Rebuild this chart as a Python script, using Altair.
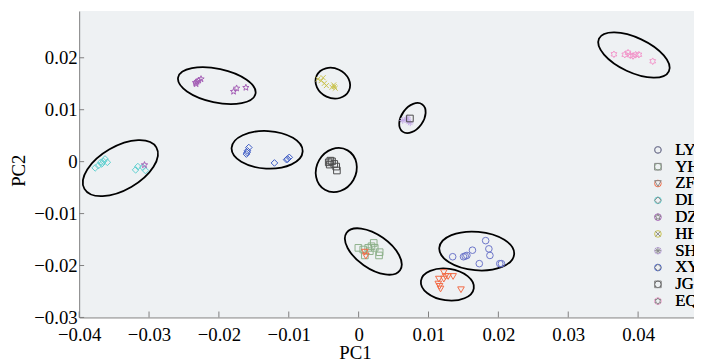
import altair as alt
import pandas as pd
import numpy as np

# ---------------- data ----------------
groups = ["LY", "YH", "ZF", "DL", "DZ", "HH", "SH", "XY", "JG", "EQ"]
colors = ["#6b74c8", "#8db08a", "#f26a45", "#5fcfcf", "#a45fb5",
          "#c9c24f", "#c6aee8", "#3f5cc4", "#4d4d4d", "#f295c9"]

LY_x = [0.01346, 0.01501, 0.01549, 0.01629, 0.01818, 0.01864, 0.01879, 0.01727, 0.02020, 0.02044, 0.01525]
LY_y = [-0.01831, -0.01831, -0.01806, -0.01705, -0.01521, -0.01679, -0.01806, -0.01964, -0.01964, -0.01964, -0.01819]

YH_x = [-0.00004, 0.00066, 0.00137, 0.00184, 0.00216, 0.00230, 0.00301, 0.00292, 0.00160, 0.00089]
YH_y = [-0.01660, -0.01692, -0.01660, -0.01629, -0.01565, -0.01660, -0.01743, -0.01806, -0.01724, -0.01806]

ZF_x = [0.00089, 0.00103, 0.01219, 0.01243, 0.01148, 0.01281, 0.01352, 0.01158, 0.01172, 0.01465, 0.01219, 0.01140]
ZF_y = [-0.01743, -0.01819, -0.02135, -0.02211, -0.02262, -0.02211, -0.02211, -0.02401, -0.02452, -0.02466, -0.02262, -0.02357]

DL_x = [-0.03771, -0.03725, -0.03677, -0.03654, -0.03630, -0.03597, -0.03192, -0.03160, -0.03051, -0.03089, -0.03691]
DL_y = [-0.00120, -0.00076, -0.00044, 0.00006, 0.00051, -0.00013, -0.00158, -0.00095, -0.00171, -0.00108, -0.00013]

DZ_x = [-0.02326, -0.02312, -0.02288, -0.02256, -0.02335, -0.01790, -0.01747, -0.01614, -0.03065]
DZ_y = [0.01496, 0.01540, 0.01565, 0.01591, 0.01521, 0.01350, 0.01413, 0.01426, -0.00063]

HH_x = [-0.00583, -0.00537, -0.00490, -0.00462, -0.00357, -0.00335, -0.00349, -0.00508, -0.00381]
HH_y = [0.01591, 0.01559, 0.01508, 0.01464, 0.01477, 0.01413, 0.01445, 0.01616, 0.01432]

SH_x = [0.00631, 0.00678, 0.00716, 0.00702, 0.00739]
SH_y = [0.00793, 0.00812, 0.00766, 0.00842, 0.00747]

XY_x = [-0.01606, -0.01592, -0.01572, -0.01596, -0.01205, -0.01031, -0.00993, -0.01017]
XY_y = [0.00146, 0.00209, 0.00272, 0.00177, -0.00025, 0.00038, 0.00082, 0.00051]

JG_x = [-0.00428, -0.00405, -0.00381, -0.00349, -0.00321, -0.00311, -0.00414, 0.00734]
JG_y = [-0.00013, 0.00019, 0.00006, -0.00044, -0.00095, -0.00171, -0.00057, 0.00831]

EQ_x = [0.03654, 0.03809, 0.03856, 0.03888, 0.03927, 0.03965, 0.04011, 0.04209]
EQ_y = [0.02067, 0.02059, 0.02097, 0.02048, 0.02034, 0.02059, 0.02059, 0.01933]

# confidence ellipses: centre (data units)
ell_cx = [-0.0203, -0.0037, 0.0077, -0.0131, -0.0032, -0.0341, 0.0394, 0.0021, 0.0169, 0.0127]
ell_cy = [0.01464, 0.01511, 0.00840, 0.00228, -0.00162, -0.00124, 0.02053, -0.01730, -0.01721, -0.02367]
# semi-axes (px) and rotation (deg)
ell_rx = [40, 18, 17, 36, 23, 42, 39, 33, 38, 27]
ell_ry = [17, 15, 11, 19, 20, 22, 17.5, 17, 19.5, 16]
ell_ang = [12, 25, -54, 3, -60, -30, 25, 35, 5, 8]

x_ticks = [-0.04, -0.03, -0.02, -0.01, 0, 0.01, 0.02, 0.03, 0.04]
y_ticks = [-0.03, -0.02, -0.01, 0, 0.01, 0.02]

# ---------------- marker shapes ----------------
def poly_path(radii, start_deg):
    n = len(radii)
    pts = []
    for i, r in enumerate(radii):
        a = np.deg2rad(start_deg + 360.0 * i / n)
        pts.append(f"{r*np.cos(a):.4f} {r*np.sin(a):.4f}")
    return "M " + " L ".join(pts) + " Z"

star5 = poly_path([1, 0.42] * 5, -90)
hexagram = poly_path([1, 0.58] * 6, -90)
xcross = "M -0.75 -0.75 L 0.75 0.75 M -0.75 0.75 L 0.75 -0.75"
aster = "M -1 0 L 1 0 M 0 -1 L 0 1 M -0.7 -0.7 L 0.7 0.7 M -0.7 0.7 L 0.7 -0.7"
shapes = ["circle", "square", "triangle-down", "diamond", star5,
          xcross, aster, "diamond", "square", hexagram]

def ellipse_path(k):
    c = 0.5523
    return (f"M 1 0 C 1 {c*k:.4f} {c:.4f} {k:.4f} 0 {k:.4f} "
            f"C {-c:.4f} {k:.4f} -1 {c*k:.4f} -1 0 "
            f"C -1 {-c*k:.4f} {-c:.4f} {-k:.4f} 0 {-k:.4f} "
            f"C {c:.4f} {-k:.4f} 1 {-c*k:.4f} 1 0 Z")

series = {"LY": (LY_x, LY_y), "YH": (YH_x, YH_y), "ZF": (ZF_x, ZF_y),
          "DL": (DL_x, DL_y), "DZ": (DZ_x, DZ_y), "HH": (HH_x, HH_y),
          "SH": (SH_x, SH_y), "XY": (XY_x, XY_y), "JG": (JG_x, JG_y),
          "EQ": (EQ_x, EQ_y)}
rows = []
for g in groups:
    xs, ys = series[g]
    for a, b in zip(xs, ys):
        rows.append({"grp": g, "x": a, "y": b})
pts = pd.DataFrame(rows)

ell = pd.DataFrame({
    "x": ell_cx, "y": ell_cy,
    "path": [ellipse_path(ry / rx) for rx, ry in zip(ell_rx, ell_ry)],
    "sz": [(2 * rx) ** 2 for rx in ell_rx],
    "ang": ell_ang,
})
xt = pd.DataFrame({"x": x_ticks})
yt = pd.DataFrame({"y": y_ticks})

W, H = 622, 310
xscale = alt.Scale(domain=[-0.04, 0.048], nice=False, zero=False)
yscale = alt.Scale(domain=[-0.03, 0.029], nice=False, zero=False)
FONT = "Liberation Serif"
FS = 19

xaxis = alt.Axis(values=x_ticks, format=".2~f", labelPadding=8, labelFlush=False,
                 labelOverlap=False, labelFont=FONT, labelFontSize=FS,
                 labelColor="black", title="PC1", titleFont=FONT, titleFontSize=FS,
                 titleX=279, titleY=36, titleAlign="center", titleBaseline="middle")
yaxis = alt.Axis(values=y_ticks, format=".2~f", labelPadding=2, labelFlush=False,
                 labelOverlap=False, labelFont=FONT, labelFontSize=FS,
                 labelColor="black", title="PC2", titleFont=FONT, titleFontSize=FS,
                 titleX=-61, titleY=161, titleAngle=270, titleAlign="center",
                 titleBaseline="middle")

leg = alt.Legend(title=None, orient="none", legendX=577, legendY=132,
                 labelFont=FONT, labelFontSize=17, labelColor="black",
                 labelOffset=9, rowPadding=-2, padding=0, symbolSize=45,
                 symbolStrokeWidth=1)

ellipses = alt.Chart(ell).mark_point(filled=False, stroke="black", strokeWidth=1.8,
                                     opacity=1).encode(
    x=alt.X("x:Q", scale=xscale, axis=xaxis),
    y=alt.Y("y:Q", scale=yscale, axis=yaxis),
    shape=alt.Shape("path:N", scale=None, legend=None),
    size=alt.Size("sz:Q", scale=None, legend=None),
    angle=alt.Angle("ang:Q", scale=None),
)

points = alt.Chart(pts).mark_point(filled=False, size=45, strokeWidth=1,
                                   opacity=1).encode(
    x=alt.X("x:Q", scale=xscale, axis=xaxis),
    y=alt.Y("y:Q", scale=yscale, axis=yaxis),
    color=alt.Color("grp:N", scale=alt.Scale(domain=groups, range=colors), legend=leg),
    shape=alt.Shape("grp:N", scale=alt.Scale(domain=groups, range=shapes), legend=leg),
)

xtick_marks = alt.Chart(xt).mark_rule(color="#7f7f7f", strokeWidth=1).encode(
    x=alt.X("x:Q", scale=xscale, axis=xaxis),
    y=alt.value(H), y2=alt.value(H - 6),
)
ytick_marks = alt.Chart(yt).mark_rule(color="#7f7f7f", strokeWidth=1).encode(
    y=alt.Y("y:Q", scale=yscale, axis=yaxis),
    x=alt.value(0), x2=alt.value(5),
)

chart = alt.layer(ellipses, points, xtick_marks, ytick_marks).resolve_scale(
    shape="independent", size="independent"
).properties(
    width=W, height=H,
    padding={"left": 72, "top": 1, "right": 0, "bottom": 43},
    autosize=alt.AutoSizeParams(type="none"),
    background="white",
).configure_view(
    fill="#eef1f3", stroke=None
).configure_axis(
    grid=False, ticks=False, domainColor="#7f7f7f", domainWidth=1,
    labelFont=FONT, labelFontSize=FS, labelColor="black",
    titleFont=FONT, titleFontSize=FS, titleColor="black", titleFontWeight="normal",
)

chart.save("out.html", embed_options={"renderer": "svg", "actions": False})
